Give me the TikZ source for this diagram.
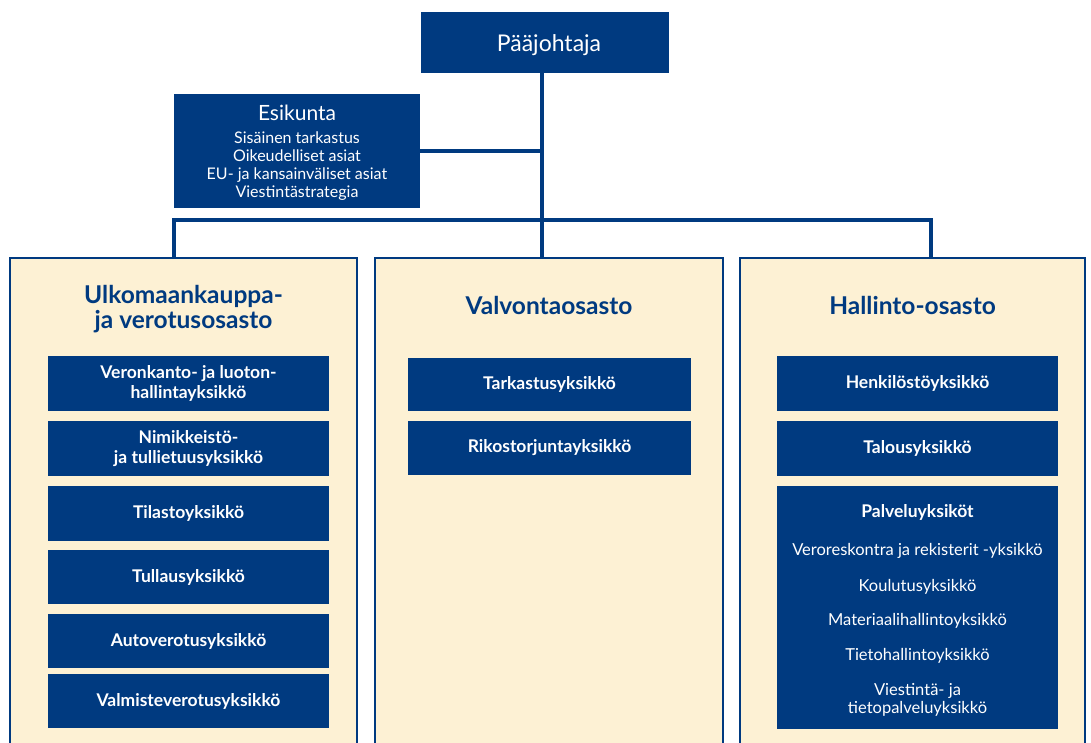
\documentclass[tikz,border=0pt]{standalone}
\usepackage{fontspec}
\setmainfont{Lato}
\definecolor{tblue}{RGB}{0,58,128}
\definecolor{tcream}{RGB}{253,241,212}
\begin{document}
\begin{tikzpicture}[x=1pt,y=-1pt,
  topbox/.style={fill=tblue,text=white,inner sep=0pt,align=center},
  unitbox/.style={fill=tblue,text=white,inner sep=0pt,align=center,font=\fontsize{17.5}{19.5}\selectfont\bfseries},
  dept/.style={fill=tcream,draw=tblue,line width=1.5pt,inner sep=0pt},
  title/.style={text=tblue,font=\fontsize{24.5}{25}\selectfont\bfseries,align=center,inner sep=0pt},
  small/.style={text=white,align=center,inner sep=0pt,font=\fontsize{16.5}{18}\selectfont},
  conn/.style={draw=tblue,line width=4pt}]
\useasboundingbox[fill=white] (0,0) rectangle (1091,742);
% departments
\node[dept,minimum width=347pt,minimum height=492pt] (dl) at (183.5,504) {};
\node[dept,minimum width=348pt,minimum height=492pt] (dm) at (549,504) {};
\node[dept,minimum width=345pt,minimum height=492pt] (dr) at (912.5,504) {};
% top
\node[topbox,minimum width=248pt,minimum height=61pt] (pj) at (545,42.5) {};
\node[text=white,inner sep=0pt,font=\fontsize{23}{28}\selectfont] (pjt) at (549,45) {Pääjohtaja};
\node[topbox,minimum width=246pt,minimum height=114pt] (esk) at (297,151) {};
\node[text=white,inner sep=0pt,font=\fontsize{21}{26}\selectfont] (eskt) at (297,113) {Esikunta};
\node[small,font=\fontsize{16}{17.8}\selectfont] (eskl) at (297,166) {Sisäinen tarkastus\\Oikeudelliset asiat\\EU- ja kansainväliset asiat\\Viestintästrategia};
% connectors
\coordinate (pjs) at ([xshift=-3pt]pj.south);
\coordinate (busL) at (174,220);
\coordinate (busR) at (931,220);
\draw[conn] (pjs) -- (pjs |- dm.north);
\draw[conn] (esk.east) -- (esk.east -| pjs);
\draw[conn] (busL |- dl.north) -- (busL) -- (busR) -- (busR |- dr.north);
% titles
\node[title] (tl) at (183.5,309) {Ulkomaankauppa-\\ja verotusosasto};
\node[title] (tm) at (549,305) {Valvontaosasto};
\node[title] (tr) at (912.5,305) {Hallinto-osasto};
% left units
\node[unitbox,minimum width=281pt,minimum height=55pt] (l1) at (188.5,383.5) {Veronkanto- ja luoton-\\hallintayksikkö};
\node[unitbox,minimum width=281pt,minimum height=55pt] (l2) at (188.5,448.5) {Nimikkeistö-\\ja tullietuusyksikkö};
\node[unitbox,minimum width=281pt,minimum height=55pt] (l3) at (188.5,513.5) {Tilastoyksikkö};
\node[unitbox,minimum width=281pt,minimum height=54pt] (l4) at (188.5,577) {Tullausyksikkö};
\node[unitbox,minimum width=281pt,minimum height=54pt] (l5) at (188.5,641) {Autoverotusyksikkö};
\node[unitbox,minimum width=281pt,minimum height=54pt] (l6) at (188.5,701) {Valmisteverotusyksikkö};
% middle units
\node[unitbox,minimum width=283pt,minimum height=53pt] (m1) at (549.5,384.5) {Tarkastusyksikkö};
\node[unitbox,minimum width=283pt,minimum height=54pt] (m2) at (549.5,448) {Rikostorjuntayksikkö};
% right units
\node[unitbox,minimum width=281pt,minimum height=55pt] (r1) at (917.5,383.5) {Henkilöstöyksikkö};
\node[unitbox,minimum width=281pt,minimum height=55pt] (r2) at (917.5,448.5) {Talousyksikkö};
\node[fill=tblue,minimum width=281pt,minimum height=243pt,inner sep=0pt] (r3) at (917.5,607.5) {};
\node[text=white,align=center,inner sep=0pt,font=\fontsize{17.5}{19}\selectfont\bfseries] (r3t) at (917.5,512) {Palveluyksiköt};
\node[small] (r3a) at (917.5,551) {Veroreskontra ja rekisterit -yksikkö};
\node[small] (r3b) at (917.5,587) {Koulutusyksikkö};
\node[small] (r3c) at (917.5,621) {Materiaalihallintoyksikkö};
\node[small] (r3d) at (917.5,656) {Tietohallintoyksikkö};
\node[small] (r3e) at (917.5,700) {Viestintä- ja\\tietopalveluyksikkö};
\end{tikzpicture}
\end{document}
